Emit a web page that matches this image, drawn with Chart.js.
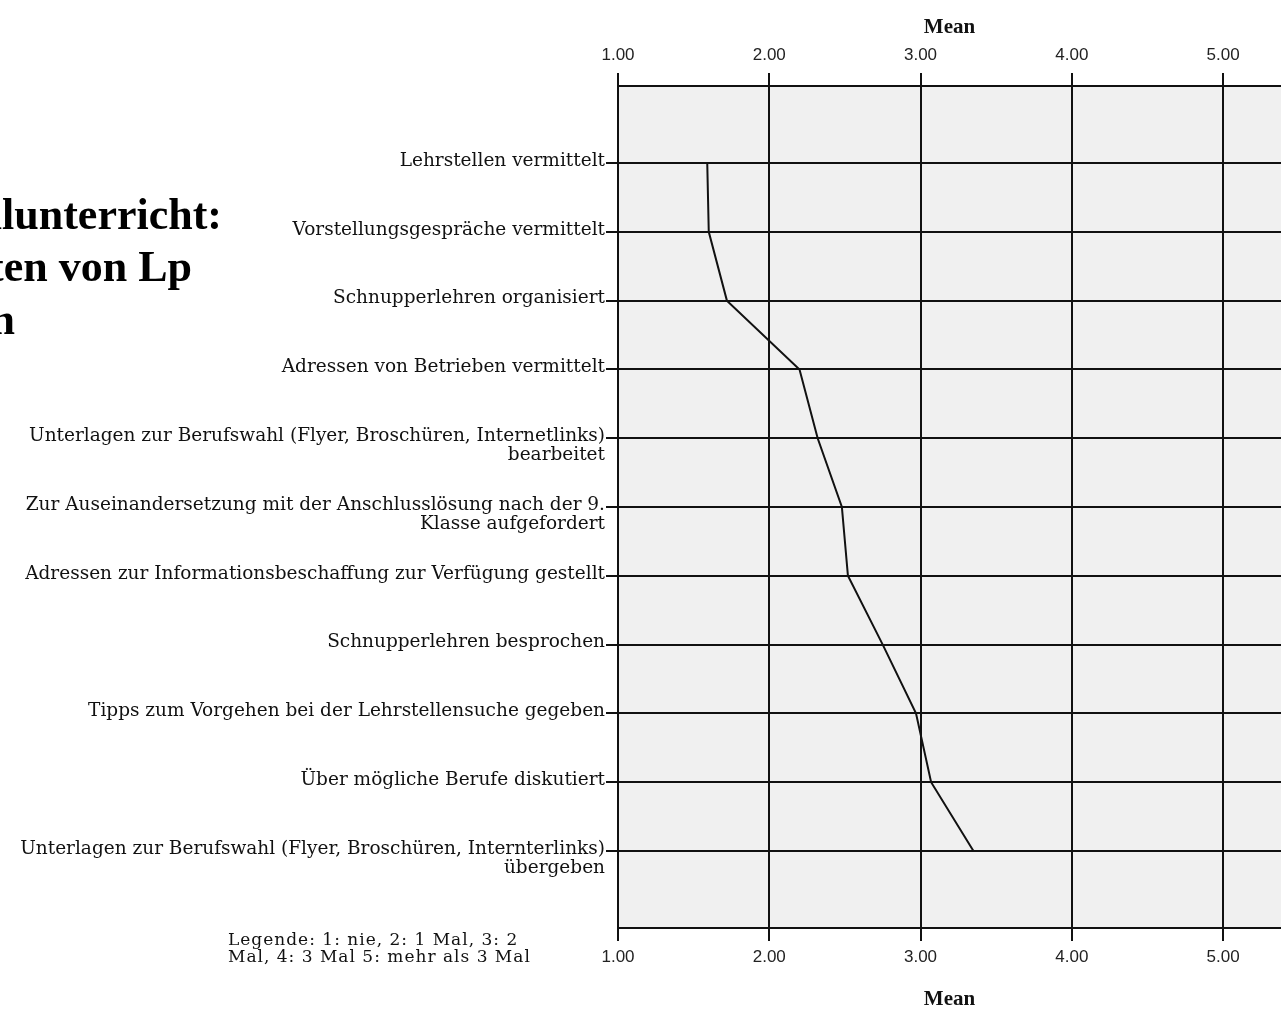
<!DOCTYPE html>
<html lang="de">
<head>
  <meta charset="UTF-8">
  <title>Berufswahlunterricht: Aktivitäten von Lp</title>
  <script src="https://cdn.jsdelivr.net/npm/chart.js"></script>
  <style>
    html, body { margin: 0; padding: 0; background: #fff; overflow: hidden; }
    #wrap { position: relative; width: 1281px; height: 1013px; }
    #chart { position: absolute; left: 0; top: 0; }
    .headline { position: absolute; white-space: nowrap; text-align: right;
      font-family: 'Liberation Serif', serif; font-weight: bold; font-size: 44px; line-height: 44px; color: #000; }
    .note { position: absolute; left: 228px; top: 931px; white-space: nowrap;
      font-family: 'DejaVu Serif', serif; font-size: 17px; letter-spacing: 1px; line-height: 16.5px; color: #111; }
  </style>
</head>
<body>
<div id="wrap">
  <canvas id="chart" width="1281" height="1013"></canvas>
  <div class="headline" style="right:1059px; top:193px;">Berufswahlunterricht:</div>
  <div class="headline" style="right:1089px; top:245px;">Aktivitäten von Lp</div>
  <div class="headline" style="right:1266px; top:298px;">Schülerinnen</div>
  <div class="note">Legende: 1: nie, 2: 1 Mal, 3: 2<br>Mal, 4: 3 Mal 5: mehr als 3 Mal</div>
</div>
<script>
  // Kategorien (mehrzeilige Beschriftungen als Arrays)
  const categories = [
    ['Lehrstellen vermittelt'],
    ['Vorstellungsgespräche vermittelt'],
    ['Schnupperlehren organisiert'],
    ['Adressen von Betrieben vermittelt'],
    ['Unterlagen zur Berufswahl (Flyer, Broschüren, Internetlinks)', 'bearbeitet'],
    ['Zur Auseinandersetzung mit der Anschlusslösung nach der 9.', 'Klasse aufgefordert'],
    ['Adressen zur Informationsbeschaffung zur Verfügung gestellt'],
    ['Schnupperlehren besprochen'],
    ['Tipps zum Vorgehen bei der Lehrstellensuche gegeben'],
    ['Über mögliche Berufe diskutiert'],
    ['Unterlagen zur Berufswahl (Flyer, Broschüren, Internterlinks)', 'übergeben']
  ];
  const means = [1.59, 1.60, 1.72, 2.20, 2.32, 2.48, 2.52, 2.75, 2.97, 3.07, 3.35];
  const xTickValues = [1, 2, 3, 4, 5];
  const xTickLabels = ['1.00', '2.00', '3.00', '4.00', '5.00'];
  const axisTitle = 'Mean';

  const lineCol = '#111';
  const tickFont = { family: "'Liberation Sans', sans-serif", size: 17 };
  const titleFont = { family: "'Liberation Serif', serif", size: 21, weight: 'bold' };
  const labelFont = '18.5px "DejaVu Serif", serif';

  // grauer Hintergrund der Plotfläche
  const plotBg = {
    id: 'plotBg',
    beforeDraw(chart) {
      const { ctx, chartArea: a } = chart;
      ctx.save();
      ctx.fillStyle = '#f0f0f0';
      ctx.fillRect(a.left, a.top, a.right - a.left, a.bottom - a.top);
      ctx.restore();
    }
  };

  // Kategorienbeschriftung rechtsbündig links der Achse
  const catLabels = {
    id: 'catLabels',
    afterDraw(chart) {
      const { ctx, chartArea: a } = chart;
      const ys = chart.scales.y;
      ctx.save();
      ctx.font = labelFont;
      ctx.fillStyle = '#111';
      ctx.textAlign = 'right';
      ctx.textBaseline = 'middle';
      categories.forEach((lines, i) => {
        const y = ys.getPixelForValue(i) - 2;
        lines.forEach((t, k) => ctx.fillText(t, a.left - 13, y + k * 19));
      });
      ctx.restore();
    }
  };

  const xAxisBase = {
    type: 'linear',
    min: 1,
    max: 5.383,
    afterBuildTicks: s => { s.ticks = xTickValues.map(v => ({ value: v })); },
    ticks: {
      callback: v => xTickLabels[xTickValues.indexOf(v)],
      font: tickFont, color: '#222', maxRotation: 0, autoSkip: false
    },
    border: { color: lineCol, width: 2 }
  };

  new Chart(document.getElementById('chart'), {
    type: 'line',
    data: {
      datasets: [{
        data: means.map((m, i) => ({ x: m, y: i })),
        borderColor: '#111',
        borderWidth: 2,
        pointRadius: 0,
        tension: 0,
        fill: false
      }]
    },
    options: {
      responsive: false,
      animation: false,
      layout: { padding: 0 },
      plugins: { legend: { display: false }, tooltip: { enabled: false } },
      scales: {
        x: {
          ...xAxisBase,
          position: 'bottom',
          ticks: { ...xAxisBase.ticks, padding: 6 },
          grid: { color: lineCol, lineWidth: 2, tickLength: 13 },
          title: { display: true, text: axisTitle, font: titleFont, color: '#111', padding: { top: 0, bottom: 1 } },
          afterFit: s => { s.height = 85; }
        },
        x2: {
          ...xAxisBase,
          position: 'top',
          ticks: { ...xAxisBase.ticks, padding: 7 },
          grid: { color: lineCol, lineWidth: 2, tickLength: 13, drawOnChartArea: false },
          title: { display: true, text: axisTitle, font: titleFont, color: '#111', padding: { top: 15, bottom: 0 } },
          afterFit: s => { s.height = 86; }
        },
        y: {
          type: 'linear',
          reverse: true,
          min: -1.12,
          max: 11.12,
          afterBuildTicks: s => { s.ticks = categories.map((c, i) => ({ value: i })); },
          ticks: { display: false },
          grid: { color: lineCol, lineWidth: 2, tickLength: 12 },
          border: { color: lineCol, width: 2 },
          afterFit: s => { s.width = 618; }
        }
      }
    },
    plugins: [plotBg, catLabels]
  });
</script>
</body>
</html>
